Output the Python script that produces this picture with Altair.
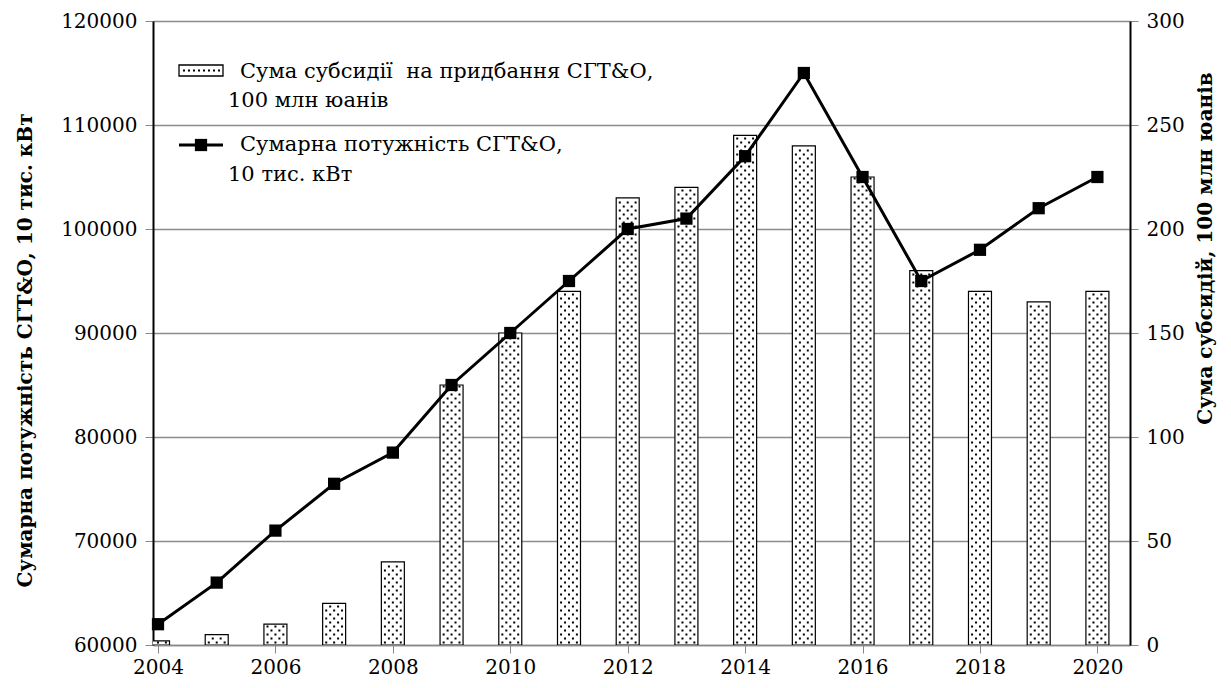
import altair as alt
import pandas as pd

years = list(range(2004, 2021))
capacity = [62000, 66000, 71000, 75500, 78500, 85000, 90000, 95000, 100000,
            101000, 107000, 115000, 105000, 95000, 98000, 102000, 105000]
subsidy = [2, 5, 10, 20, 40, 125, 150, 170, 215, 220, 245, 240, 225, 180,
           170, 165, 170]
x_ticks = list(range(2004, 2021, 2))
left_ticks = list(range(60000, 120001, 10000))
right_ticks = list(range(0, 301, 50))

bar_label = ["Сума субсидії\u00a0 на придбання СГТ&О,", "100 млн юанів"]
line_label = ["Сумарна потужність СГТ&О,", "10 тис. кВт"]
left_title = "Сумарна потужність СГТ&О, 10 тис. кВт"
right_title = "Сума субсидій, 100 млн юанів"

df = pd.DataFrame({"year": years, "capacity": capacity, "subsidy": subsidy})

FONT = "'DejaVu Serif', serif"
W, H = 977, 624
PX_PER_YEAR = W / 16.47
PX_PER_UNIT = H / 300.0

xscale = alt.Scale(domain=[2004, 2020.47], nice=False, zero=False)
xaxis = alt.Axis(values=x_ticks, format="d", title=None, grid=False,
                 labelFont=FONT, labelFontSize=20, labelColor="black",
                 labelFlush=False, labelPadding=4, tickColor="#888888",
                 tickSize=8, domainColor="#888888", domainWidth=1.5)

r_scale = alt.Scale(domain=[0, 300], nice=False)
r_axis = alt.Axis(orient="right", values=right_ticks, format="d", title=right_title,
                  grid=False, labelFont=FONT, labelFontSize=20, labelColor="black",
                  labelPadding=8, tickColor="#888888", tickSize=8,
                  domainColor="black", domainWidth=2,
                  titleFont=FONT, titleFontSize=20, titleFontWeight="bold",
                  titleColor="black", titleAngle=270, titleX=75, titleY=227,
                  titleAlign="center", titleBaseline="middle")

l_scale = alt.Scale(domain=[60000, 120000], nice=False, zero=False)
l_axis = alt.Axis(orient="left", values=left_ticks, format="d", title=left_title,
                  grid=True, gridColor="#8c8c8c", gridWidth=1.3,
                  labelFont=FONT, labelFontSize=20, labelColor="black",
                  labelPadding=8, tickColor="#888888", tickSize=8,
                  domainColor="black", domainWidth=2,
                  titleFont=FONT, titleFontSize=20, titleFontWeight="bold",
                  titleColor="black", titleAngle=270, titleX=-128, titleY=329,
                  titleAlign="center", titleBaseline="middle")

bars = alt.Chart().mark_bar(size=23, fill="white", stroke="black",
                            strokeWidth=1.2, clip=True).encode(
    x=alt.X("year:Q", scale=xscale, axis=xaxis),
    y=alt.Y("subsidy:Q", scale=r_scale, axis=r_axis))

dots = alt.Chart().transform_calculate(
    dotrows=f"sequence(0, floor(datum.subsidy * {PX_PER_UNIT} / 4))"
).transform_flatten(["dotrows"], as_=["dotrow"]).transform_calculate(
    dotcols="datum.dotrow % 2 == 0 ? [-8, 0, 8] : [-4, 4]"
).transform_flatten(["dotcols"], as_=["dotcol"]).transform_calculate(
    dx=f"datum.year + datum.dotcol / {PX_PER_YEAR}",
    dy=f"(datum.dotrow * 4 + 2.5) / {PX_PER_UNIT}"
).mark_square(size=4, color="black", opacity=1, clip=True).encode(
    x=alt.X("dx:Q", scale=xscale, axis=xaxis),
    y=alt.Y("dy:Q", scale=r_scale, axis=r_axis))

bar_group = alt.layer(bars, dots)

line = alt.Chart().mark_line(color="black", strokeWidth=3).encode(
    x=alt.X("year:Q", scale=xscale, axis=xaxis),
    y=alt.Y("capacity:Q", scale=l_scale, axis=l_axis))
pts = alt.Chart().mark_square(size=150, color="black", opacity=1).encode(
    x=alt.X("year:Q", scale=xscale, axis=xaxis),
    y=alt.Y("capacity:Q", scale=l_scale, axis=l_axis))
line_group = alt.layer(line, pts)

one = pd.DataFrame({"k": [0]})
leg_rect = alt.Chart(one).mark_rect(fill="white", stroke="black", strokeWidth=1.3).encode(
    x=alt.value(26), x2=alt.value(70), y=alt.value(44), y2=alt.value(55))
leg_dots = alt.Chart(one).mark_rule(color="black", strokeWidth=2, strokeDash=[2, 3]).encode(
    x=alt.value(30), x2=alt.value(67), y=alt.value(49.5))
leg_line = alt.Chart(one).mark_rule(color="black", strokeWidth=3).encode(
    x=alt.value(26), x2=alt.value(70), y=alt.value(124))
leg_sq = alt.Chart(one).mark_square(size=150, color="black", opacity=1).encode(
    x=alt.value(48), y=alt.value(124))


def txt(s, xx, yy):
    return alt.Chart(one).mark_text(text=s, font=FONT, fontSize=21, color="black",
                                    align="left", baseline="middle").encode(
        x=alt.value(xx), y=alt.value(yy))


legend = alt.layer(leg_rect, leg_dots, leg_line, leg_sq,
                   txt(bar_label[0], 87, 51), txt(bar_label[1], 75, 80),
                   txt(line_label[0], 87, 124), txt(line_label[1], 75, 154))

chart = alt.layer(bar_group, line_group, legend, data=df).resolve_scale(
    y="independent"
).properties(
    width=W, height=H,
    autosize=alt.AutoSizeParams(type="none"),
    padding={"left": 145, "top": 13, "right": 88, "bottom": 34},
).configure_view(stroke="black", strokeWidth=1.5).configure(background="white")

chart.save("out.html", embed_options={"renderer": "svg", "actions": False})
